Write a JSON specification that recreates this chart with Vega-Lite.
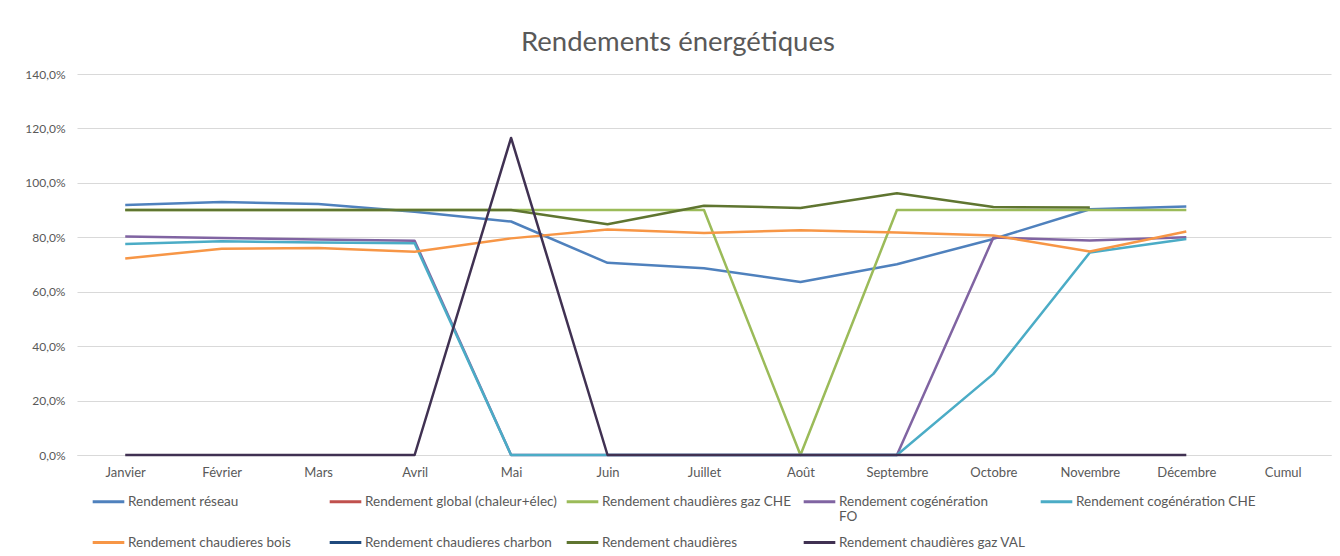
{
  "$schema": "https://vega.github.io/schema/vega-lite/v6.json",
  "width": 1254,
  "height": 381,
  "autosize": {"type": "none"},
  "padding": {"left": 77, "top": 74, "right": 9, "bottom": 101},
  "background": "white",
  "title": {
    "text": "Rendements énergétiques",
    "anchor": "middle",
    "frame": "bounds",
    "font": "Lato",
    "fontSize": 27.5,
    "fontWeight": "normal",
    "color": "#595959",
    "offset": 12
  },
  "config": {
    "view": {"stroke": null},
    "font": "Lato"
  },
  "data": {
    "values": [
      {"mois": "Janvier", "serie": "Rendement réseau", "valeur": 0.919},
      {"mois": "Février", "serie": "Rendement réseau", "valeur": 0.930},
      {"mois": "Mars", "serie": "Rendement réseau", "valeur": 0.922},
      {"mois": "Avril", "serie": "Rendement réseau", "valeur": 0.894},
      {"mois": "Mai", "serie": "Rendement réseau", "valeur": 0.858},
      {"mois": "Juin", "serie": "Rendement réseau", "valeur": 0.706},
      {"mois": "Juillet", "serie": "Rendement réseau", "valeur": 0.686},
      {"mois": "Août", "serie": "Rendement réseau", "valeur": 0.636},
      {"mois": "Septembre", "serie": "Rendement réseau", "valeur": 0.701},
      {"mois": "Octobre", "serie": "Rendement réseau", "valeur": 0.794},
      {"mois": "Novembre", "serie": "Rendement réseau", "valeur": 0.903},
      {"mois": "Décembre", "serie": "Rendement réseau", "valeur": 0.913},

      {"mois": "Janvier", "serie": "Rendement chaudières gaz CHE", "valeur": 0.90},
      {"mois": "Février", "serie": "Rendement chaudières gaz CHE", "valeur": 0.90},
      {"mois": "Mars", "serie": "Rendement chaudières gaz CHE", "valeur": 0.90},
      {"mois": "Avril", "serie": "Rendement chaudières gaz CHE", "valeur": 0.90},
      {"mois": "Mai", "serie": "Rendement chaudières gaz CHE", "valeur": 0.90},
      {"mois": "Juin", "serie": "Rendement chaudières gaz CHE", "valeur": 0.90},
      {"mois": "Juillet", "serie": "Rendement chaudières gaz CHE", "valeur": 0.90},
      {"mois": "Août", "serie": "Rendement chaudières gaz CHE", "valeur": 0.0},
      {"mois": "Septembre", "serie": "Rendement chaudières gaz CHE", "valeur": 0.90},
      {"mois": "Octobre", "serie": "Rendement chaudières gaz CHE", "valeur": 0.90},
      {"mois": "Novembre", "serie": "Rendement chaudières gaz CHE", "valeur": 0.90},
      {"mois": "Décembre", "serie": "Rendement chaudières gaz CHE", "valeur": 0.90},

      {"mois": "Janvier", "serie": "Rendement cogénération FO", "valeur": 0.803},
      {"mois": "Février", "serie": "Rendement cogénération FO", "valeur": 0.797},
      {"mois": "Mars", "serie": "Rendement cogénération FO", "valeur": 0.792},
      {"mois": "Avril", "serie": "Rendement cogénération FO", "valeur": 0.787},
      {"mois": "Mai", "serie": "Rendement cogénération FO", "valeur": 0.0},
      {"mois": "Juin", "serie": "Rendement cogénération FO", "valeur": 0.0},
      {"mois": "Juillet", "serie": "Rendement cogénération FO", "valeur": 0.0},
      {"mois": "Août", "serie": "Rendement cogénération FO", "valeur": 0.0},
      {"mois": "Septembre", "serie": "Rendement cogénération FO", "valeur": 0.0},
      {"mois": "Octobre", "serie": "Rendement cogénération FO", "valeur": 0.799},
      {"mois": "Novembre", "serie": "Rendement cogénération FO", "valeur": 0.788},
      {"mois": "Décembre", "serie": "Rendement cogénération FO", "valeur": 0.800},

      {"mois": "Janvier", "serie": "Rendement cogénération CHE", "valeur": 0.775},
      {"mois": "Février", "serie": "Rendement cogénération CHE", "valeur": 0.785},
      {"mois": "Mars", "serie": "Rendement cogénération CHE", "valeur": 0.781},
      {"mois": "Avril", "serie": "Rendement cogénération CHE", "valeur": 0.778},
      {"mois": "Mai", "serie": "Rendement cogénération CHE", "valeur": 0.0},
      {"mois": "Juin", "serie": "Rendement cogénération CHE", "valeur": 0.0},
      {"mois": "Juillet", "serie": "Rendement cogénération CHE", "valeur": 0.0},
      {"mois": "Août", "serie": "Rendement cogénération CHE", "valeur": 0.0},
      {"mois": "Septembre", "serie": "Rendement cogénération CHE", "valeur": 0.0},
      {"mois": "Octobre", "serie": "Rendement cogénération CHE", "valeur": 0.298},
      {"mois": "Novembre", "serie": "Rendement cogénération CHE", "valeur": 0.744},
      {"mois": "Décembre", "serie": "Rendement cogénération CHE", "valeur": 0.794},

      {"mois": "Janvier", "serie": "Rendement chaudieres bois", "valeur": 0.722},
      {"mois": "Février", "serie": "Rendement chaudieres bois", "valeur": 0.758},
      {"mois": "Mars", "serie": "Rendement chaudieres bois", "valeur": 0.761},
      {"mois": "Avril", "serie": "Rendement chaudieres bois", "valeur": 0.747},
      {"mois": "Mai", "serie": "Rendement chaudieres bois", "valeur": 0.796},
      {"mois": "Juin", "serie": "Rendement chaudieres bois", "valeur": 0.829},
      {"mois": "Juillet", "serie": "Rendement chaudieres bois", "valeur": 0.816},
      {"mois": "Août", "serie": "Rendement chaudieres bois", "valeur": 0.826},
      {"mois": "Septembre", "serie": "Rendement chaudieres bois", "valeur": 0.818},
      {"mois": "Octobre", "serie": "Rendement chaudieres bois", "valeur": 0.807},
      {"mois": "Novembre", "serie": "Rendement chaudieres bois", "valeur": 0.748},
      {"mois": "Décembre", "serie": "Rendement chaudieres bois", "valeur": 0.821},

      {"mois": "Janvier", "serie": "Rendement chaudières", "valeur": 0.90},
      {"mois": "Février", "serie": "Rendement chaudières", "valeur": 0.90},
      {"mois": "Mars", "serie": "Rendement chaudières", "valeur": 0.90},
      {"mois": "Avril", "serie": "Rendement chaudières", "valeur": 0.90},
      {"mois": "Mai", "serie": "Rendement chaudières", "valeur": 0.90},
      {"mois": "Juin", "serie": "Rendement chaudières", "valeur": 0.848},
      {"mois": "Juillet", "serie": "Rendement chaudières", "valeur": 0.916},
      {"mois": "Août", "serie": "Rendement chaudières", "valeur": 0.908},
      {"mois": "Septembre", "serie": "Rendement chaudières", "valeur": 0.962},
      {"mois": "Octobre", "serie": "Rendement chaudières", "valeur": 0.911},
      {"mois": "Novembre", "serie": "Rendement chaudières", "valeur": 0.909},

      {"mois": "Janvier", "serie": "Rendement chaudières gaz VAL", "valeur": 0.0},
      {"mois": "Février", "serie": "Rendement chaudières gaz VAL", "valeur": 0.0},
      {"mois": "Mars", "serie": "Rendement chaudières gaz VAL", "valeur": 0.0},
      {"mois": "Avril", "serie": "Rendement chaudières gaz VAL", "valeur": 0.0},
      {"mois": "Mai", "serie": "Rendement chaudières gaz VAL", "valeur": 1.165},
      {"mois": "Juin", "serie": "Rendement chaudières gaz VAL", "valeur": 0.0},
      {"mois": "Juillet", "serie": "Rendement chaudières gaz VAL", "valeur": 0.0},
      {"mois": "Août", "serie": "Rendement chaudières gaz VAL", "valeur": 0.0},
      {"mois": "Septembre", "serie": "Rendement chaudières gaz VAL", "valeur": 0.0},
      {"mois": "Octobre", "serie": "Rendement chaudières gaz VAL", "valeur": 0.0},
      {"mois": "Novembre", "serie": "Rendement chaudières gaz VAL", "valeur": 0.0},
      {"mois": "Décembre", "serie": "Rendement chaudières gaz VAL", "valeur": 0.0}
    ]
  },
  "mark": {"type": "line", "strokeWidth": 2.5, "strokeJoin": "round"},
  "encoding": {
    "x": {
      "field": "mois",
      "type": "ordinal",
      "sort": null,
      "scale": {
        "domain": ["Janvier", "Février", "Mars", "Avril", "Mai", "Juin", "Juillet", "Août", "Septembre", "Octobre", "Novembre", "Décembre", "Cumul"],
        "type": "point",
        "padding": 0.5
      },
      "axis": {
        "title": null,
        "labelAngle": 0,
        "ticks": false,
        "domainColor": "#d9d9d9",
        "domainWidth": 1,
        "labelColor": "#595959",
        "labelFont": "Lato",
        "labelFontSize": 13,
        "labelPadding": 11,
        "grid": false
      }
    },
    "y": {
      "field": "valeur",
      "type": "quantitative",
      "scale": {"domain": [0, 1.4], "nice": false, "zero": true},
      "axis": {
        "title": null,
        "values": [0, 0.2, 0.4, 0.6, 0.8, 1.0, 1.2, 1.4],
        "labelExpr": "replace(format(datum.value, '.1%'), '.', ',')",
        "ticks": false,
        "domain": false,
        "gridColor": "#d9d9d9",
        "gridWidth": 1,
        "labelColor": "#595959",
        "labelFont": "Lato",
        "labelFontSize": 12,
        "labelPadding": 12
      }
    },
    "color": {
      "field": "serie",
      "type": "nominal",
      "sort": null,
      "scale": {
        "domain": ["Rendement réseau", "Rendement global (chaleur+élec)", "Rendement chaudières gaz CHE", "Rendement cogénération FO", "Rendement cogénération CHE", "Rendement chaudieres bois", "Rendement chaudieres charbon", "Rendement chaudières", "Rendement chaudières gaz VAL"],
        "range": ["#4F81BD", "#C0504D", "#9BBB59", "#8064A2", "#4BACC6", "#F79646", "#1F497D", "#5F7530", "#403152"]
      },
      "legend": {
        "title": null,
        "orient": "none",
        "legendX": 14,
        "legendY": 410,
        "direction": "horizontal",
        "columns": 5,
        "gridAlign": "all",
        "columnPadding": 3,
        "rowPadding": 1,
        "padding": 0,
        "symbolType": "stroke",
        "symbolSize": 1000,
        "symbolStrokeWidth": 3,
        "labelOffset": 2,
        "labelLimit": 400,
        "labelFont": "Lato",
        "labelFontSize": 13.5,
        "labelColor": "#595959",
        "labelBaseline": "middle",
        "labelExpr": "datum.label == 'Rendement cogénération FO' ? ['Rendement cogénération', 'FO'] : [datum.label, '']"
      }
    }
  }
}
